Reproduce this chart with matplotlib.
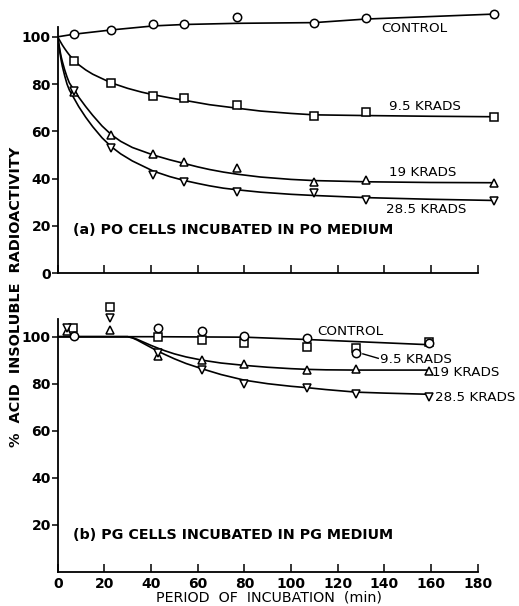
import matplotlib
matplotlib.use("Agg")
import matplotlib.pyplot as plt

# ---------------- data: panel (a) ----------------
a_time = [7, 23, 41, 54, 77, 110, 132, 187]
a_control = [101.1, 102.9, 105.3, 105.4, 108.2, 106.0, 107.8, 109.6]
a_k95 = [89.9, 80.3, 75.1, 74.3, 71.2, 66.6, 68.1, 66.2]
a_k19 = [76.8, 58.5, 50.4, 47.2, 44.4, 38.5, 39.5, 38.3]
a_k285 = [77.0, 52.9, 41.6, 38.7, 34.5, 33.8, 31.0, 30.6]

# fitted curves
a_ctrl_fit_t = [0, 7, 23, 41, 54, 77, 110, 132, 187]
a_ctrl_fit_v = [100, 101.1, 102.9, 104.6, 105.2, 105.7, 106.0, 107.5, 109.6]
a_k95_fit_t = [0, 1, 2, 3, 4, 5, 7, 9, 12, 15, 18, 23, 30, 36, 41, 48, 54,
               65, 77, 87, 100, 110, 132, 160, 187]
a_k95_fit_v = [100, 98.2, 96.5, 95, 93.6, 92.3, 90, 88.2, 86, 84.2, 82.8,
               80.5, 78.2, 76.6, 75.5, 74.2, 73.2, 71.3, 69.8, 68.6, 67.6,
               67.0, 66.7, 66.4, 66.2]
a_fit_t = [0, 0.5, 1, 1.5, 2, 3, 4, 5, 7, 9, 12, 15, 19, 23, 27, 32, 41, 48,
           54, 60, 65, 71, 77, 87, 100, 110, 132, 160, 187]
a_k19_fit_v = [100, 97, 94, 91.5, 89.5, 86, 83, 80.5, 77.5, 74.5, 70.5, 66.8,
               62.3, 58.6, 55.8, 53.2, 50.0, 48.0, 46.5, 45.0, 43.9, 42.8,
               41.9, 40.7, 39.7, 39.2, 38.7, 38.4, 38.3]
a_k285_fit_v = [100, 96.5, 93, 90, 87.5, 83.5, 80, 77.5, 74, 70.5, 66, 62,
                57.3, 53.5, 50.5, 47.5, 43.2, 40.9, 39.3, 38.0, 37.0, 36.0,
                35.3, 34.3, 33.4, 32.9, 32.0, 31.3, 30.8]

# ---------------- data: panel (b) ----------------
b_ctrl_t = [7, 43, 62, 80, 107, 128, 159]
b_ctrl_v = [100.4, 103.6, 102.6, 100.3, 99.3, 92.9, 97.2]
b_k95_t = [6.5, 22.5, 43, 62, 80, 107, 128, 159]
b_k95_v = [103.6, 112.8, 100.0, 98.6, 97.2, 95.7, 95.3, 97.8]
b_k19_t = [4, 22.5, 43, 62, 80, 107, 128, 159]
b_k19_v = [102.5, 102.9, 92.0, 90.1, 88.4, 85.8, 86.1, 85.5]
b_k285_t = [4, 22.5, 43, 62, 80, 107, 128, 159]
b_k285_v = [103.6, 107.8, 93.0, 85.8, 79.9, 78.3, 75.5, 74.5]

b_ctrl_fit_t = [0, 40, 80, 107, 159]
b_ctrl_fit_v = [100, 100, 99.8, 98.8, 96.6]
b_fit_t = [0, 30, 32, 34, 37, 40, 43, 46, 50, 55, 62, 70, 80, 90, 100, 107,
           115, 128, 140, 159]
b_k19_fit_v = [100, 100, 99.6, 98.9, 97.6, 96.3, 95.1, 94.0, 92.7, 91.4,
               90.0, 88.8, 87.8, 87.0, 86.4, 86.1, 85.9, 85.8, 85.8, 85.8]
b_k285_fit_v = [100, 100, 99.5, 98.6, 97.0, 95.4, 93.8, 92.4, 90.6, 88.6,
                86.3, 83.9, 81.5, 80.0, 78.9, 78.3, 77.5, 76.4, 76.0, 75.5]

x_ticks = [0, 20, 40, 60, 80, 100, 120, 140, 160, 180]
a_y_ticks = [0, 20, 40, 60, 80, 100]
b_y_ticks = [20, 40, 60, 80, 100]

FONT = ["DejaVu Sans"]
plt.rcParams["font.family"] = FONT

W, H = 519, 606
fig = plt.figure(figsize=(W / 100, H / 100), dpi=100)

x0px, pxmin = 57.7, 2.333
XMAX = 192


def make_axes(y0px, pxunit, ymax):
    left = x0px / W
    width = XMAX * pxmin / W
    bottom = 1 - y0px / H
    height = ymax * pxunit / H
    return fig.add_axes([left, bottom, width, height])


mk = dict(color="black", linestyle="none", markerfacecolor="white",
          markeredgecolor="black", markersize=6, markeredgewidth=1.1, zorder=3)
lk = dict(color="black", lw=1.2, zorder=2)


def style(ax, ytop, yticks, xlabels):
    ax.set_xlim(0, XMAX)
    for s in ("top", "right"):
        ax.spines[s].set_visible(False)
    ax.spines["bottom"].set_bounds(0, 180)
    ax.spines["left"].set_bounds(0, ytop)
    for s in ("bottom", "left"):
        ax.spines[s].set_linewidth(1.3)
    ax.set_xticks(x_ticks)
    ax.set_yticks(yticks)
    ax.tick_params(axis="x", direction="in", length=6, width=1.1, pad=4,
                   labelsize=10)
    ax.tick_params(axis="y", direction="out", length=4, width=1.1, pad=1.0,
                   labelsize=10)
    if not xlabels:
        ax.set_xticklabels([])
    for t in ax.get_xticklabels() + ax.get_yticklabels():
        t.set_fontweight("bold")


ANN = 9.7
# ---- panel (a) ----
ax1 = make_axes(273.3, 2.365, 112)
ax1.set_ylim(0, 112)
ax1.plot(a_ctrl_fit_t, a_ctrl_fit_v, **lk)
ax1.plot(a_k95_fit_t, a_k95_fit_v, **lk)
ax1.plot(a_fit_t, a_k19_fit_v, **lk)
ax1.plot(a_fit_t, a_k285_fit_v, **lk)
ax1.plot(a_time, a_control, marker="o", **mk)
ax1.plot(a_time, a_k95, marker="s", **mk)
ax1.plot(a_time, a_k19, marker="^", **mk)
ax1.plot(a_time, a_k285, marker="v", **mk)
style(ax1, 104, a_y_ticks, False)
tk = dict(fontsize=ANN, ha="center", va="center", zorder=4)
ax1.text(152.7, 103.7, "CONTROL", **tk)
ax1.text(157.6, 70.4, "9.5 KRADS", **tk)
ax1.text(156.4, 42.5, "19 KRADS", **tk)
ax1.text(157.8, 27.1, "28.5 KRADS", **tk)
ax1.text(6.4, 18.3, "(a) PO CELLS INCUBATED IN PO MEDIUM", fontsize=10.3,
         fontweight="bold", ha="left", va="center")

# ---- panel (b) ----
ax2 = make_axes(571.7, 2.35, 115)
ax2.set_ylim(0, 115)
ax2.plot(b_ctrl_fit_t, b_ctrl_fit_v, **lk)
ax2.plot(b_fit_t, b_k19_fit_v, **lk)
ax2.plot(b_fit_t, b_k285_fit_v, **lk)
ax2.plot(b_k95_t, b_k95_v, marker="s", **mk)
ax2.plot(b_ctrl_t, b_ctrl_v, marker="o", **mk)
ax2.plot(b_k19_t, b_k19_v, marker="^", **mk)
ax2.plot(b_k285_t, b_k285_v, marker="v", **mk)
style(ax2, 107.5, b_y_ticks, True)
ax2.text(125.3, 102.1, "CONTROL", **tk)
ax2.plot([130.8, 137.4], [92.7, 90.8], color="black", lw=1.0, zorder=2)
ax2.text(138.1, 90.4, "9.5 KRADS", fontsize=ANN, ha="left", va="center")
ax2.text(160.6, 84.7, "19 KRADS", fontsize=ANN, ha="left", va="center")
ax2.text(161.7, 74.2, "28.5 KRADS", fontsize=ANN, ha="left", va="center")
ax2.text(6.4, 15.6, "(b) PG CELLS INCUBATED IN PG MEDIUM", fontsize=10.3,
         fontweight="bold", ha="left", va="center")

fig.text(269 / W, 1 - 597.5 / H, "PERIOD  OF  INCUBATION  (min)",
         fontsize=10.3, ha="center", va="center")
fig.text(16 / W, 1 - 297 / H, "%  ACID  INSOLUBLE  RADIOACTIVITY",
         fontsize=10.4, fontweight="bold", rotation=90, ha="center", va="center")

fig.savefig("out.png", dpi=100)
